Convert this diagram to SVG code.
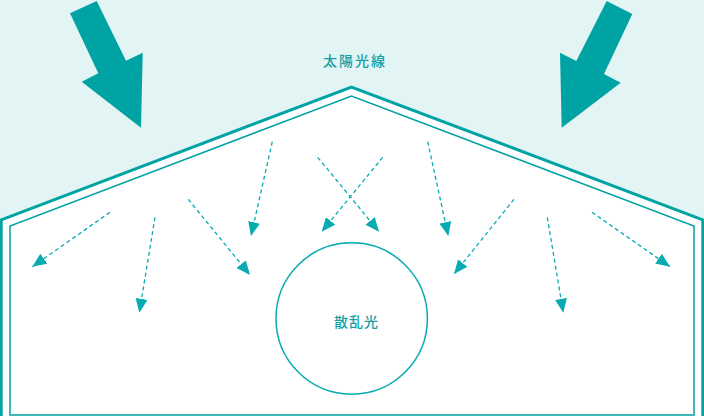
<svg xmlns="http://www.w3.org/2000/svg" width="704" height="416" viewBox="0 0 704 416">
<style>
.lbl{font-family:"Noto Sans CJK JP","Noto Sans",sans-serif;font-size:14px;font-weight:500;fill:#13a0a2;}
.ray{fill:none;stroke:#09abb3;stroke-width:1.3;stroke-dasharray:4 3;marker-end:url(#head);}
.big{fill:#00a3a3;}
</style>
<defs>
<marker id="head" viewBox="0 0 14 12" refX="14" refY="6" markerWidth="14" markerHeight="12" markerUnits="userSpaceOnUse" orient="auto">
<path d="M0,0 L14,6 L0,12 Z" fill="#09abb3"/>
</marker>
</defs>
<rect x="0" y="0" width="704" height="416" fill="#e3f4f5"/>
<g id="house">
<path d="M0,219 L351.5,87 L704,219 L704,416 L0,416 Z" fill="#ffffff"/>
<path d="M1.2,416 L1.2,219.8 L351.5,87 L702.8,219.8 L702.8,416" fill="none" stroke="#00a3a3" stroke-width="3"/>
<path d="M10,415 L10,226 L351.5,96 L694,226 L694,415 Z" fill="none" stroke="#00a3a3" stroke-width="1.5"/>
</g>
<g id="sun-left">
<polygon class="big" points="70,13.3 96.7,1 126,60.7 142.7,52.7 141,127.7 81.7,81.7 98.3,73.3"/>
</g>
<g id="sun-right">
<polygon class="big" points="606.7,1 632.3,14 604,74 620.7,82.7 561.7,127.7 560,52.7 576.3,61"/>
</g>
<g id="label-sun">
<text class="lbl" x="323" y="65.5" letter-spacing="2">太陽光線</text>
</g>
<g id="scatter">
<circle cx="351.7" cy="318.5" r="75.7" fill="none" stroke="#09abb3" stroke-width="1.5"/>
<text class="lbl" x="334" y="326.5" letter-spacing="1">散乱光</text>
</g>
<g id="connectors">
<line class="ray" x1="110" y1="212.3" x2="32.3" y2="266.7"/>
<line class="ray" x1="155" y1="217.3" x2="139.3" y2="312.7"/>
<line class="ray" x1="188.3" y1="199.3" x2="250" y2="275"/>
<line class="ray" x1="272.3" y1="141.7" x2="251" y2="236"/>
<line class="ray" x1="317.7" y1="157.3" x2="379" y2="231.7"/>
<line class="ray" x1="382.7" y1="157.3" x2="321.7" y2="231.7"/>
<line class="ray" x1="427.7" y1="141.7" x2="448.3" y2="236"/>
<line class="ray" x1="514" y1="199.3" x2="454" y2="274"/>
<line class="ray" x1="547.3" y1="217.3" x2="563.3" y2="312.7"/>
<line class="ray" x1="592" y1="212.3" x2="670" y2="266.7"/>
</g>
</svg>
